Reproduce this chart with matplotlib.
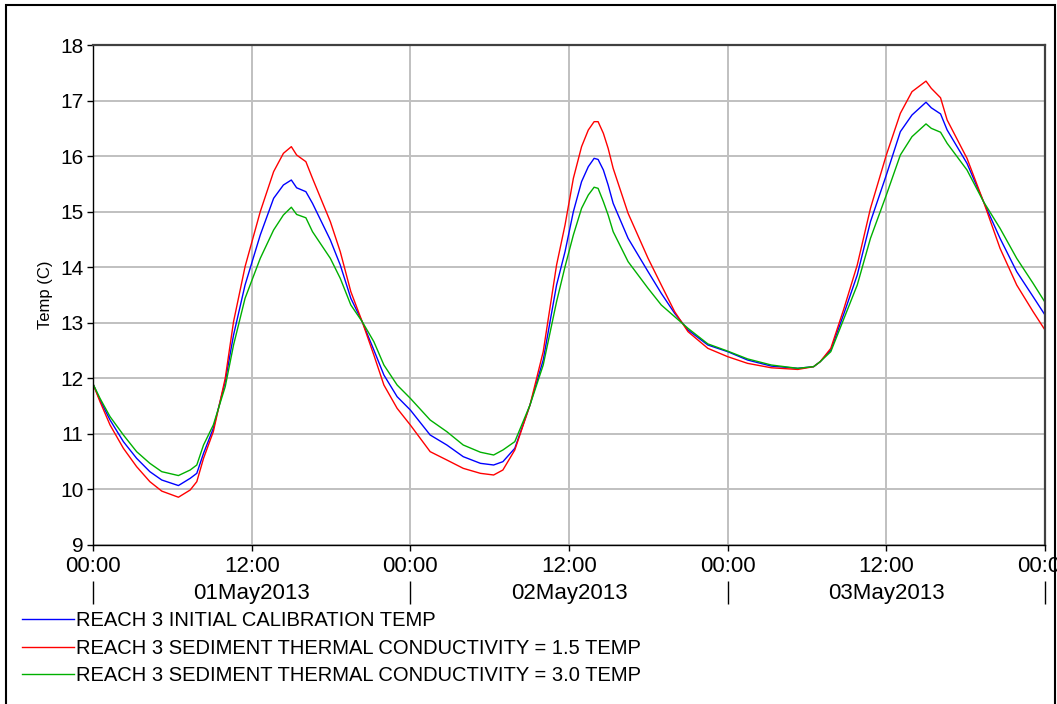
import numpy as np
import matplotlib.pyplot as plt
from matplotlib.patches import Rectangle

plt.rcParams['font.family'] = ['Liberation Sans', 'DejaVu Sans']

# hours since 01May2013 00:00
hours = [0, 0.53, 1.29, 2.3, 3.3, 4.3, 5.2, 6.46, 7.35, 7.85,
         8.36, 9.1, 10.0, 10.63, 11.5, 12.65, 13.66, 14.4, 15.0, 15.4,
         16.1, 16.6, 17.95, 18.7, 19.5, 20.36, 21.24, 22.0, 23.0, 24.0,
         25.5, 26.76, 28.0, 29.3, 30.3, 31.0, 31.9, 33.05, 34.05, 35.06,
         35.7, 36.33, 36.95, 37.46, 37.9, 38.2, 38.6, 38.96, 39.34, 40.47,
         41.98, 42.98, 43.99, 45.0, 46.5, 48.0, 49.5, 51.3, 53.3, 54.5,
         55.0, 55.8, 56.8, 57.8, 58.8, 60.0, 61.06, 61.94, 63.0, 63.4,
         64.1, 64.6, 66.1, 67.35, 68.6, 69.86, 71.1, 72.0]

temp_initial = [11.9, 11.61, 11.25, 10.86, 10.56, 10.32, 10.17, 10.07, 10.2, 10.29,
                10.65, 11.1, 11.94, 12.78, 13.68, 14.58, 15.24, 15.48, 15.57, 15.43,
                15.36, 15.15, 14.49, 14.04, 13.44, 13.02, 12.51, 12.06, 11.67, 11.43,
                10.98, 10.8, 10.59, 10.47, 10.44, 10.5, 10.74, 11.52, 12.33, 13.68,
                14.28, 15.0, 15.54, 15.81, 15.96, 15.94, 15.75, 15.48, 15.15, 14.52,
                13.92, 13.53, 13.17, 12.87, 12.6, 12.48, 12.33, 12.22, 12.18, 12.21,
                12.3, 12.51, 13.17, 13.86, 14.82, 15.66, 16.44, 16.74, 16.97, 16.87,
                16.76, 16.47, 15.87, 15.18, 14.52, 13.92, 13.47, 13.14]

temp_k15 = [11.9, 11.58, 11.16, 10.74, 10.41, 10.14, 9.97, 9.86, 9.99, 10.14,
            10.56, 11.04, 12.0, 13.02, 14.01, 15.0, 15.72, 16.05, 16.17, 16.02,
            15.9, 15.6, 14.82, 14.28, 13.56, 13.02, 12.42, 11.88, 11.46, 11.16,
            10.68, 10.53, 10.38, 10.29, 10.26, 10.35, 10.71, 11.52, 12.48, 14.04,
            14.76, 15.6, 16.17, 16.47, 16.62, 16.62, 16.41, 16.14, 15.78, 14.97,
            14.16, 13.68, 13.2, 12.84, 12.54, 12.39, 12.27, 12.19, 12.16, 12.21,
            12.3, 12.54, 13.26, 14.04, 15.06, 16.02, 16.77, 17.16, 17.35, 17.22,
            17.05, 16.65, 15.96, 15.18, 14.34, 13.68, 13.2, 12.87]

temp_k30 = [11.9, 11.64, 11.31, 10.98, 10.68, 10.47, 10.32, 10.25, 10.35, 10.44,
            10.8, 11.16, 11.85, 12.6, 13.44, 14.16, 14.67, 14.94, 15.08, 14.95,
            14.89, 14.64, 14.16, 13.8, 13.32, 13.02, 12.66, 12.24, 11.88, 11.64,
            11.25, 11.04, 10.8, 10.67, 10.62, 10.71, 10.86, 11.52, 12.24, 13.38,
            14.01, 14.58, 15.06, 15.3, 15.44, 15.42, 15.18, 14.94, 14.64, 14.1,
            13.62, 13.32, 13.11, 12.9, 12.62, 12.49, 12.35, 12.24, 12.18, 12.21,
            12.3, 12.48, 13.08, 13.68, 14.52, 15.3, 16.02, 16.35, 16.58, 16.5,
            16.43, 16.23, 15.75, 15.18, 14.7, 14.16, 13.71, 13.37]

labels = ["REACH 3 INITIAL CALIBRATION TEMP",
          "REACH 3 SEDIMENT THERMAL CONDUCTIVITY = 1.5 TEMP",
          "REACH 3 SEDIMENT THERMAL CONDUCTIVITY = 3.0 TEMP"]
colors = ['#0000ff', '#ff0000', '#00b000']

tick_hours = [0, 12, 24, 36, 48, 60, 72]
tick_labels = ["00:00", "12:00", "00:00", "12:00", "00:00", "12:00", "00:00"]
day_hours = [12, 36, 60]
day_labels = ["01May2013", "02May2013", "03May2013"]

W, H = 1057, 704
fig = plt.figure(figsize=(W / 100, H / 100), dpi=100)
ax = fig.add_axes([93 / W, 1 - 545 / H, (1045 - 93) / W, 500 / H])

for y, c, lab in zip([temp_initial, temp_k15, temp_k30], colors, labels):
    ax.plot(hours, y, color=c, lw=1.0, label=lab)

ax.set_xlim(0, 72)
ax.set_ylim(9, 18)
ax.set_xticks(tick_hours)
ax.set_xticklabels(tick_labels)
ax.set_yticks(range(9, 19))
ax.grid(True, color='#c0c0c0', lw=1.4)
ax.set_axisbelow(True)
ax.tick_params(axis='x', direction='out', length=4, width=1, labelsize=16, pad=4)
ax.tick_params(axis='y', direction='out', length=4, width=1, labelsize=15, pad=3)
for s in ['left', 'bottom']:
    ax.spines[s].set_color('black')
    ax.spines[s].set_linewidth(1.0)
for s in ['top', 'right']:
    ax.spines[s].set_color('#404040')
    ax.spines[s].set_linewidth(1.6)
ax.set_ylabel("Temp (C)", fontsize=12)
ax.yaxis.set_label_coords(-0.042, 0.5)

# second row of the time axis: dates and day separators
trans = ax.get_xaxis_transform()
for h, lab in zip(day_hours, day_labels):
    ax.text(h, -0.096, lab, transform=trans, ha='center', va='center', fontsize=16)
ax.vlines([0, 24, 48, 72], -0.118, -0.072, transform=trans, color='black', lw=1.0, clip_on=False)

# legend below the plot
fig.legend(loc='upper left', bbox_to_anchor=(22 / W, 1 - 611 / H), frameon=False,
           fontsize=14.5, handlelength=2.6, handletextpad=0.1, labelspacing=0.43,
           borderaxespad=0, borderpad=0)

# outer frame
fig.add_artist(Rectangle((6 / W, -0.05), (1055 - 6) / W, 1.05 - 5 / H,
                         transform=fig.transFigure, fill=False, ec='black', lw=1.5))

fig.savefig('out.png', dpi=100)
